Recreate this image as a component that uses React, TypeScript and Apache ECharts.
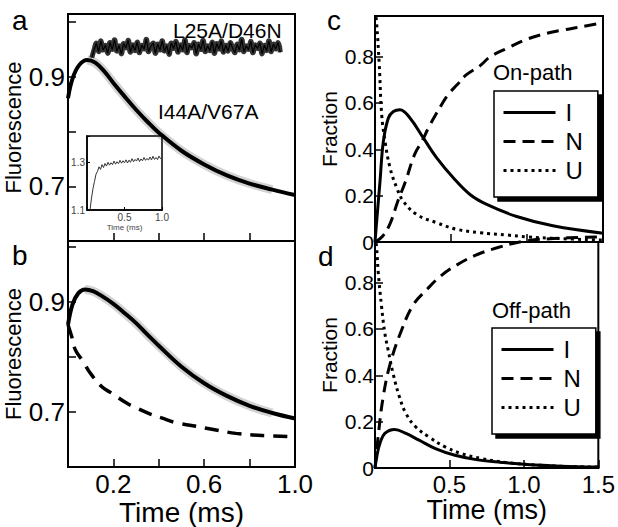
import React, { useEffect, useRef } from "react";
import * as echarts from "echarts";

// ---------- Panel a ----------
const aFitT = [0, 0.02, 0.05, 0.085, 0.12, 0.16, 0.2, 0.25, 0.3, 0.35, 0.4, 0.5, 0.6, 0.7, 0.8, 0.9, 1.0];
const aFitV = [0.861, 0.897, 0.922, 0.931, 0.926, 0.91, 0.889, 0.864, 0.84, 0.818, 0.798, 0.765, 0.74, 0.72, 0.705, 0.694, 0.684];
const l25Start = 0.105;
const l25Step = 0.01;
const l25Values = [
  0.935, 0.95, 0.962, 0.946, 0.966, 0.949, 0.958, 0.943, 0.963, 0.95,
  0.968, 0.947, 0.957, 0.942, 0.961, 0.953, 0.967, 0.945, 0.959, 0.948,
  0.964, 0.944, 0.958, 0.951, 0.969, 0.946, 0.956, 0.962, 0.943, 0.96,
  0.949, 0.966, 0.947, 0.957, 0.941, 0.962, 0.952, 0.965, 0.945, 0.959,
  0.949, 0.968, 0.944, 0.958, 0.953, 0.963, 0.942, 0.96, 0.95, 0.967,
  0.946, 0.957, 0.948, 0.964, 0.943, 0.961, 0.951, 0.966, 0.945, 0.958,
  0.947, 0.963, 0.953, 0.944, 0.96, 0.949, 0.969, 0.946, 0.957, 0.95,
  0.965, 0.944, 0.959, 0.952, 0.962, 0.942, 0.958, 0.948, 0.966, 0.946,
  0.96, 0.951, 0.963, 0.945,
];
// inset
const insetStart = 0.04;
const insetStep = 0.02;
const insetValues = [
  1.1, 1.15, 1.19, 1.22, 1.25, 1.262, 1.281, 1.27, 1.29, 1.278,
  1.295, 1.284, 1.3, 1.288, 1.298, 1.29, 1.305, 1.292, 1.302, 1.294,
  1.308, 1.296, 1.306, 1.298, 1.31, 1.297, 1.309, 1.3, 1.315, 1.302,
  1.312, 1.305, 1.318, 1.303, 1.314, 1.306, 1.32, 1.308, 1.316, 1.309,
  1.322, 1.31, 1.325, 1.312, 1.32, 1.311, 1.326, 1.315, 1.322,
];

// ---------- Panel b ----------
const bFitT = [0, 0.02, 0.045, 0.075, 0.11, 0.15, 0.2, 0.25, 0.3, 0.35, 0.4, 0.5, 0.6, 0.7, 0.8, 0.9, 1.0];
const bFitV = [0.858, 0.895, 0.915, 0.922, 0.919, 0.91, 0.896, 0.879, 0.861, 0.84, 0.82, 0.782, 0.752, 0.729, 0.711, 0.698, 0.688];
const bDashT = [0, 0.016, 0.033, 0.066, 0.097, 0.148, 0.192, 0.258, 0.302, 0.368, 0.412, 0.478, 0.55, 0.64, 0.74, 0.86, 1.0];
const bDashV = [0.858, 0.837, 0.812, 0.792, 0.771, 0.746, 0.734, 0.716, 0.707, 0.695, 0.689, 0.68, 0.675, 0.668, 0.661, 0.657, 0.655];

// ---------- Panel c (On-path) ----------
const cIT = [0, 0.015, 0.033, 0.055, 0.088, 0.121, 0.164, 0.23, 0.318, 0.406, 0.515, 0.625, 0.735, 0.932, 1.17, 1.5];
const cIV = [0, 0.12, 0.262, 0.434, 0.535, 0.563, 0.571, 0.535, 0.449, 0.363, 0.277, 0.205, 0.162, 0.11, 0.07, 0.038];
const cNT = [0, 0.05, 0.1, 0.15, 0.2, 0.26, 0.31, 0.35, 0.4, 0.48, 0.54, 0.6, 0.69, 0.76, 0.87, 1.0, 1.13, 1.24, 1.33, 1.5];
const cNV = [0, 0.025, 0.08, 0.176, 0.26, 0.377, 0.436, 0.49, 0.55, 0.635, 0.678, 0.721, 0.76, 0.8, 0.836, 0.875, 0.9, 0.915, 0.925, 0.946];
const cUT = [0, 0.01, 0.028, 0.044, 0.066, 0.099, 0.143, 0.186, 0.274, 0.406, 0.537, 0.69, 0.87, 1.0, 1.2, 1.5];
const cUV = [1.0, 0.95, 0.764, 0.549, 0.434, 0.32, 0.234, 0.176, 0.119, 0.083, 0.055, 0.04, 0.03, 0.022, 0.015, 0.008];

// ---------- Panel d (Off-path) ----------
const dIT = [0, 0.015, 0.033, 0.066, 0.132, 0.208, 0.296, 0.406, 0.537, 0.69, 0.85, 1.02, 1.25, 1.5];
const dIV = [0, 0.06, 0.106, 0.149, 0.166, 0.149, 0.12, 0.084, 0.055, 0.035, 0.024, 0.015, 0.008, 0.004];
const dNT = [0, 0.02, 0.055, 0.103, 0.175, 0.257, 0.351, 0.439, 0.542, 0.669, 0.82, 1.0, 1.2, 1.5];
const dNV = [0, 0.13, 0.307, 0.452, 0.589, 0.704, 0.772, 0.827, 0.873, 0.916, 0.95, 0.978, 0.99, 0.997];
const dUT = [0, 0.01, 0.022, 0.044, 0.066, 0.088, 0.121, 0.164, 0.208, 0.274, 0.362, 0.471, 0.581, 0.713, 0.9, 1.2, 1.5];
const dUV = [1.0, 0.957, 0.842, 0.697, 0.582, 0.51, 0.409, 0.307, 0.235, 0.177, 0.134, 0.091, 0.062, 0.041, 0.022, 0.009, 0.004];

// tick labels
const bXLabels = [0.2, 0.6, 1.0];
const dXLabels = [0.5, 1.0, 1.5];
const abYLabels = [0.7, 0.9];
const cdYLabels = [0, 0.2, 0.4, 0.6, 0.8];
const insetXLabels = [0.5, 1.0];
const insetYLabels = [1.1, 1.3];
const legendNames = ["I", "N", "U"];

const FONT = '"Liberation Sans", Arial, Helvetica, sans-serif';

const pairs = (t: number[], v: number[]) => t.map((x, i) => [x, v[i]]);
const sampled = (start: number, step: number, v: number[]) => v.map((y, i) => [+(start + i * step).toFixed(4), y]);
const fmt = (list: number[]) => (v: number) =>
  list.some((x) => Math.abs(x - v) < 1e-6) ? (Math.abs(v) < 1e-9 ? "0" : v.toFixed(1)) : "";

export default function App() {
  const ref = useRef<HTMLDivElement>(null);
  useEffect(() => {
    if (!ref.current) return;
    const chart = echarts.init(ref.current, undefined, { renderer: "svg" });

    const gridBase = { show: true, borderColor: "#000", borderWidth: 2, backgroundColor: "transparent" };
    const axisLine = { show: true, lineStyle: { color: "#000", width: 2 } };
    const axisTick = { show: true, inside: true, length: 8, lineStyle: { color: "#000", width: 1.5 } };

    const mkX = (grid: number, max: number, interval: number, labels: number[] | null, extra: any = {}) => ({
      type: "value",
      gridIndex: grid,
      min: 0,
      max,
      interval,
      axisLine,
      axisTick,
      splitLine: { show: false },
      axisLabel: labels
        ? { show: true, formatter: fmt(labels), color: "#000", fontFamily: FONT, fontSize: 26, margin: 4 }
        : { show: false },
      ...extra,
    });

    const black = "#000";
    const lineS = (name: string, x: number, y: number, data: any, style: any, extra: any = {}) => ({
      type: "line",
      name,
      xAxisIndex: x,
      yAxisIndex: y,
      data,
      symbol: "none",
      smooth: 0.4,
      lineStyle: { color: black, width: 3, ...style },
      itemStyle: { color: black },
      silent: true,
      ...extra,
    });

    const aFit = pairs(aFitT, aFitV);
    const bFit = pairs(bFitT, bFitV);
    const l25 = sampled(l25Start, l25Step, l25Values);

    const legendCommon = {
      data: legendNames,
      orient: "vertical",
      itemWidth: 52,
      itemHeight: 14,
      itemGap: 4,
      backgroundColor: "#fff",
      borderColor: "#000",
      borderWidth: 1.5,
      shadowColor: "#000",
      shadowBlur: 0,
      shadowOffsetX: 4,
      shadowOffsetY: 4,
      padding: [9, 15, 14, 8],
      selectedMode: false,
      itemStyle: { color: "rgba(0,0,0,0)", borderWidth: 0, opacity: 0 },
      lineStyle: { width: 3 },
      textStyle: { fontSize: 24, fontFamily: FONT, color: "#000", lineHeight: 25, padding: [0, 0, 0, 5] },
    };

    const txt = (text: string, x: number, y: number, size: number) => ({
      type: "text",
      x,
      y,
      silent: true,
      style: {
        text,
        fill: "#000",
        fontSize: size,
        fontFamily: FONT,
        textAlign: "left",
        align: "left",
        textVerticalAlign: "middle",
        verticalAlign: "middle",
      },
    });

    chart.setOption({
      animation: false,
      backgroundColor: "#fff",
      grid: [
        { ...gridBase, left: 68, top: 14, width: 227, height: 227 },
        { ...gridBase, left: 68, top: 241, width: 227, height: 227 },
        { ...gridBase, left: 375, top: 16, width: 228, height: 226 },
        { ...gridBase, left: 375, top: 242, width: 228, height: 226 },
        { ...gridBase, borderWidth: 1.5, left: 87, top: 136, width: 75, height: 74, backgroundColor: "#fff" },
      ],
      xAxis: [
        mkX(0, 1, 0.2, null),
        mkX(1, 1, 0.2, bXLabels, {
          name: "Time (ms)",
          nameLocation: "middle",
          nameGap: 31,
          nameTextStyle: { fontSize: 28, fontFamily: FONT, color: "#000" },
        }),
        mkX(2, 1.5, 0.5, null),
        mkX(3, 1.5, 0.5, dXLabels, {
          name: "Time (ms)",
          nameLocation: "middle",
          nameGap: 26,
          nameTextStyle: { fontSize: 27, fontFamily: FONT, color: "#000" },
          axisLabel: { show: true, formatter: fmt(dXLabels), color: "#000", fontFamily: FONT, fontSize: 24, margin: 4 },
        }),
        {
          type: "value",
          gridIndex: 4,
          min: 0,
          max: 1,
          interval: 0.5,
          axisLine: { show: true, lineStyle: { color: "#000", width: 1.5 } },
          axisTick: { show: true, inside: true, length: 3, lineStyle: { color: "#000" } },
          splitLine: { show: false },
          axisLabel: { formatter: fmt(insetXLabels), fontSize: 10, color: "#444", fontFamily: FONT, margin: 2 },
          name: "Time (ms)",
          nameLocation: "middle",
          nameGap: 13,
          nameTextStyle: { fontSize: 8, color: "#444", fontFamily: FONT },
        },
      ],
      yAxis: [
        {
          type: "value",
          gridIndex: 0,
          min: 0.6,
          max: 1.015,
          interval: 0.1,
          axisLine,
          axisTick,
          splitLine: { show: false },
          axisLabel: { formatter: fmt(abYLabels), color: "#000", fontFamily: FONT, fontSize: 26, margin: 3 },
          name: "Fluorescence",
          nameLocation: "middle",
          nameGap: 38,
          nameTextStyle: { fontSize: 22, fontFamily: FONT, color: "#000" },
        },
        {
          type: "value",
          gridIndex: 1,
          min: 0.6,
          max: 1.01,
          interval: 0.1,
          axisLine,
          axisTick,
          splitLine: { show: false },
          axisLabel: { formatter: fmt(abYLabels), color: "#000", fontFamily: FONT, fontSize: 26, margin: 3 },
          name: "Fluorescence",
          nameLocation: "middle",
          nameGap: 38,
          nameTextStyle: { fontSize: 22, fontFamily: FONT, color: "#000" },
        },
        {
          type: "value",
          gridIndex: 2,
          min: 0,
          max: 0.975,
          interval: 0.2,
          axisLine,
          axisTick,
          splitLine: { show: false },
          axisLabel: { formatter: fmt(cdYLabels), color: "#000", fontFamily: FONT, fontSize: 21, margin: 1 },
          name: "Fraction",
          nameLocation: "middle",
          nameGap: 35,
          nameTextStyle: { fontSize: 21, fontFamily: FONT, color: "#000" },
        },
        {
          type: "value",
          gridIndex: 3,
          min: 0,
          max: 0.975,
          interval: 0.2,
          axisLine,
          axisTick,
          splitLine: { show: false },
          axisLabel: { formatter: fmt(cdYLabels), color: "#000", fontFamily: FONT, fontSize: 21, margin: 1 },
          name: "Fraction",
          nameLocation: "middle",
          nameGap: 35,
          nameTextStyle: { fontSize: 21, fontFamily: FONT, color: "#000" },
        },
        {
          type: "value",
          gridIndex: 4,
          min: 1.1,
          max: 1.41,
          interval: 0.2,
          axisLine: { show: true, lineStyle: { color: "#000", width: 1.5 } },
          axisTick: { show: true, inside: true, length: 3, lineStyle: { color: "#000" } },
          splitLine: { show: false },
          axisLabel: { formatter: fmt(insetYLabels), fontSize: 10, color: "#444", fontFamily: FONT, margin: 2 },
        },
      ],
      legend: [
        { ...legendCommon, left: 494, top: 91 },
        { ...legendCommon, left: 492, top: 328 },
      ],
      series: [
        // panel a
        lineS("", 0, 0, l25, { width: 5, color: "rgba(0,0,0,0.8)" }, { smooth: 0.6 }),
        lineS("", 0, 0, l25, { width: 1.2 }, { smooth: false }),
        lineS("", 0, 0, aFit.filter((p) => p[0] >= 0.085 && p[0] <= 0.93), { width: 9, color: "rgba(80,80,80,0.25)" }),
        lineS("", 0, 0, aFit, { width: 4 }),
        // inset
        lineS("", 4, 4, sampled(insetStart, insetStep, insetValues), { width: 1, color: "#333" }, { smooth: false, z: 5 }),
        // panel b
        lineS("", 1, 1, bFit.filter((p) => p[0] >= 0.075 && p[0] <= 0.93), { width: 9, color: "rgba(80,80,80,0.25)" }),
        lineS("", 1, 1, bFit, { width: 4 }),
        lineS("", 1, 1, pairs(bDashT, bDashV), { width: 3.5, type: [14, 9] }),
        // panel c
        lineS("I", 2, 2, pairs(cIT, cIV), { type: "solid" }),
        lineS("N", 2, 2, pairs(cNT, cNV), { type: [12, 7] }),
        lineS("U", 2, 2, pairs(cUT, cUV), { type: [3, 4] }),
        // panel d
        lineS("I", 3, 3, pairs(dIT, dIV), { type: "solid" }),
        lineS("N", 3, 3, pairs(dNT, dNV), { type: [12, 7] }, { clip: false }),
        lineS("U", 3, 3, pairs(dUT, dUV), { type: [3, 4] }),
      ],
      graphic: [
        txt("a", 12, 20, 28),
        txt("b", 12, 255, 28),
        txt("c", 327, 20, 28),
        txt("d", 318, 256, 28),
        txt("L25A/D46N", 173, 30, 21),
        txt("I44A/V67A", 158, 111, 21),
        txt("On-path", 493, 72, 22),
        txt("Off-path", 492, 310, 22),
      ],
    });
    return () => chart.dispose();
  }, []);

  return (
    <div
      ref={ref}
      style={{ position: "fixed", left: 0, top: 0, width: 618, height: 527, background: "#fff" }}
    />
  );
}
